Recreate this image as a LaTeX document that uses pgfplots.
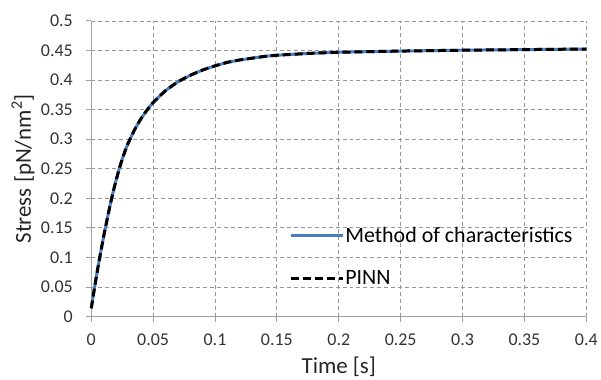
\documentclass[border=0pt]{standalone}
\usepackage{pgfplots}
\pgfplotsset{compat=1.18}
\usepackage{fontspec}
\setmainfont{Carlito}
\definecolor{mocblue}{RGB}{74,126,193}
\definecolor{axgray}{RGB}{160,160,160}
\definecolor{gridgray}{RGB}{150,150,150}
\pgfplotstableread{
t v
0 0.014
0.002 0.040
0.004 0.066
0.006 0.090
0.008 0.113
0.010 0.135
0.0125 0.161
0.015 0.186
0.0175 0.209
0.02 0.230
0.0225 0.249
0.025 0.266
0.0275 0.281
0.03 0.294
0.035 0.316
0.04 0.334
0.045 0.349
0.05 0.362
0.06 0.382
0.07 0.397
0.08 0.408
0.09 0.417
0.10 0.424
0.11 0.430
0.12 0.434
0.13 0.437
0.14 0.440
0.15 0.442
0.175 0.445
0.2 0.447
0.25 0.449
0.3 0.4505
0.35 0.4515
0.4 0.4525
}\stressdata
\begin{document}
\begin{tikzpicture}
\begin{axis}[
  scale only axis,
  width=496.5pt, height=296.5pt,
  xmin=0, xmax=0.4, ymin=0, ymax=0.5,
  xtick={0,0.05,...,0.4}, ytick={0,0.05,...,0.5},
  /pgf/number format/assume math mode=true,
  xticklabel style={/pgf/number format/fixed, /pgf/number format/precision=2, anchor=center, yshift=-18.5pt},
  yticklabel style={/pgf/number format/fixed, /pgf/number format/precision=2, anchor=east, xshift=-10pt},
  scaled ticks=false,
  tick label style={font=\fontsize{18}{20}\selectfont, text=black!80},
  xlabel={Time [s]},
  ylabel={Stress [pN/nm\textsuperscript{2}]},
  every axis x label/.style={at={(axis description cs:0.5,0)}, anchor=center, yshift=-50pt, font=\fontsize{23}{26}\selectfont, text=black!85},
  every axis y label/.style={at={(axis description cs:0,0.5)}, rotate=90, anchor=center, yshift=68.5pt, font=\fontsize{23}{26}\selectfont, text=black!85},
  axis x line*=bottom, axis y line*=left,
  axis line style={axgray, line width=1pt, -},
  tick style={axgray, line width=1pt},
  tick align=outside, major tick length=5pt,
  grid=major,
  major grid style={gridgray, line width=0.8pt, dash pattern=on 4pt off 3pt},
  xtick pos=bottom, ytick pos=left,
  legend style={draw=none, fill=none, at={(rel axis cs:0.40,0.31)}, anchor=north west,
    font=\fontsize{22}{24}\selectfont, row sep=23pt, inner xsep=0pt, inner ysep=0pt,
    nodes={inner xsep=1pt}},
  legend cell align=left,
  legend image code/.code={\draw[#1] (0pt,0pt) -- (52pt,0pt);},
  clip=false,
]
\addplot[mocblue, line width=3pt, smooth, tension=0.3] table[x=t, y=v] {\stressdata};
\addlegendentry{Method of characteristics}
\addplot[black, line width=3pt, dash pattern=on 8pt off 4pt, smooth, tension=0.3] table[x=t, y=v] {\stressdata};
\addlegendentry{PINN}
\end{axis}
\path[use as bounding box] ([xshift=-91.5pt,yshift=-62.5pt]current axis.south west) rectangle ([xshift=13pt,yshift=21pt]current axis.north east);
\end{tikzpicture}
\end{document}
